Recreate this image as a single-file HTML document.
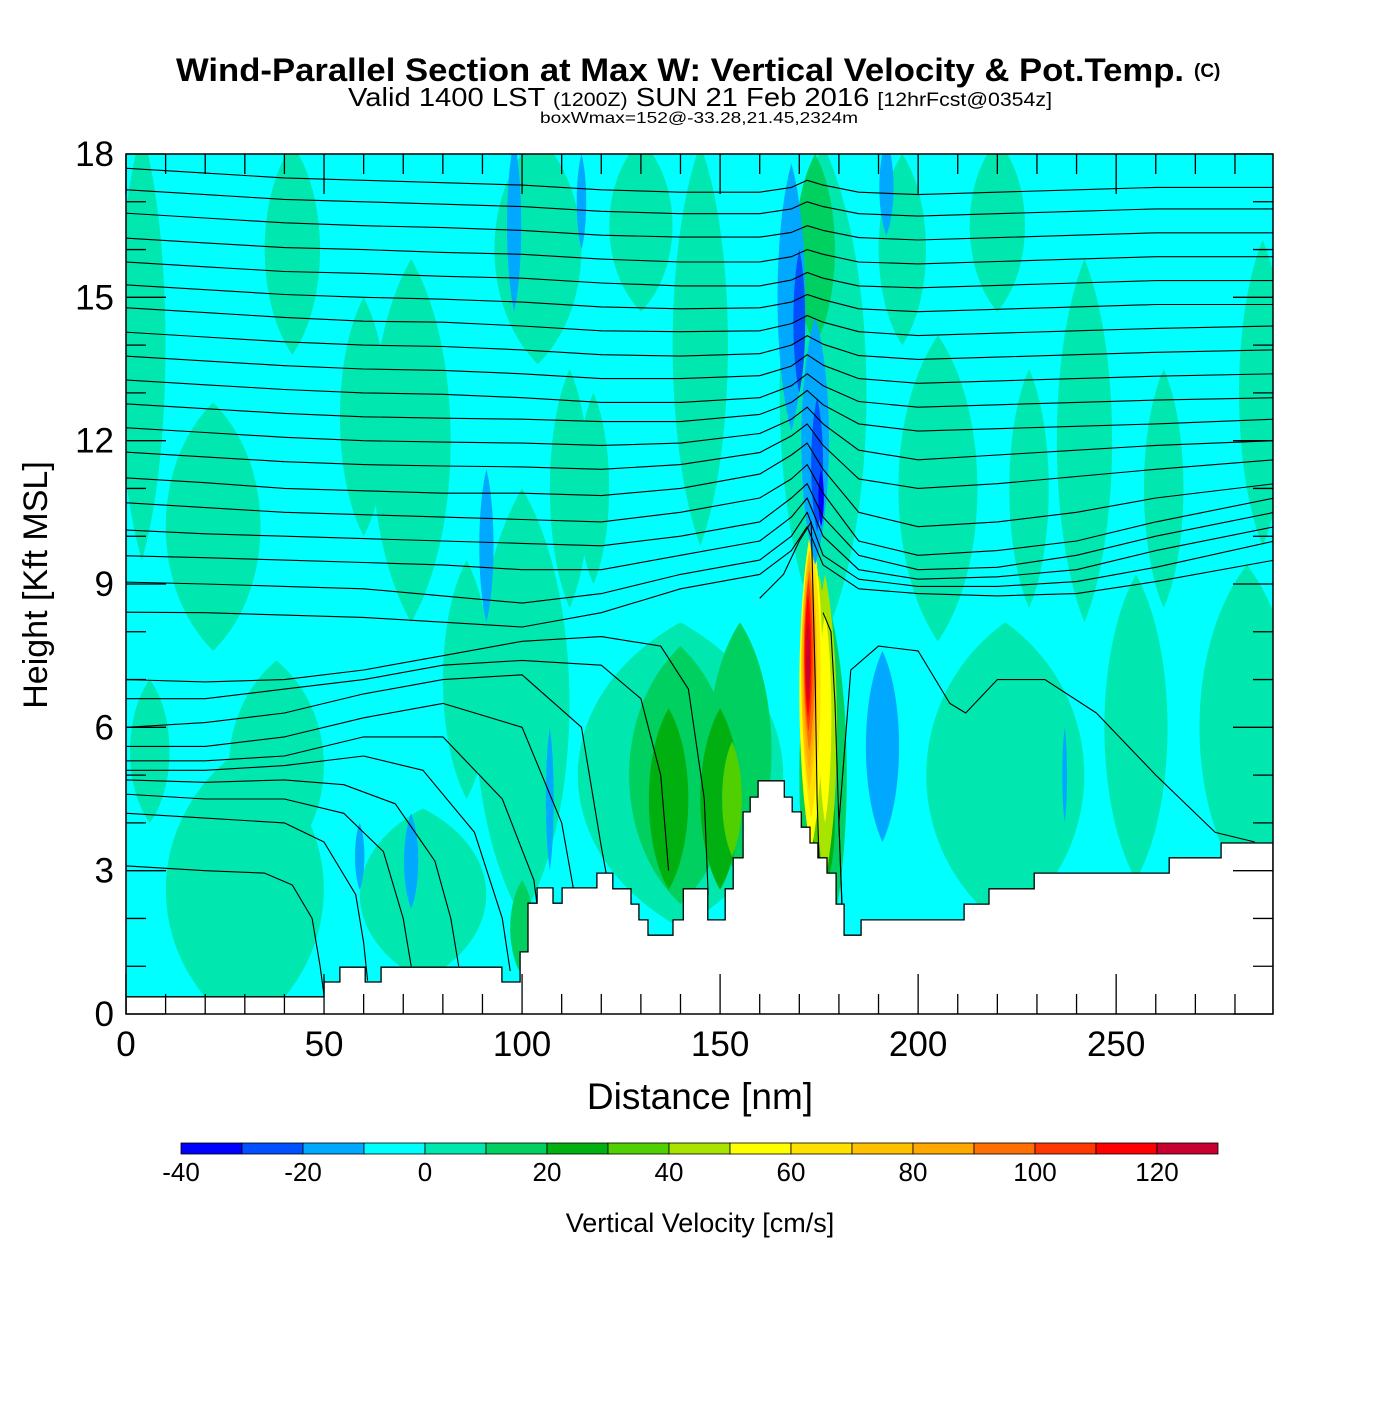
<!DOCTYPE html>
<html><head><meta charset="utf-8"><style>
html,body{margin:0;padding:0;background:#fff;}
svg text{font-family:"Liberation Sans",sans-serif;}
</style></head><body>
<svg id="chart" width="1400" height="1400" viewBox="0 0 1400 1400" xmlns="http://www.w3.org/2000/svg">
<text x="176" y="81" font-size="32" font-weight="bold" textLength="1008" lengthAdjust="spacingAndGlyphs">Wind-Parallel Section at Max W: Vertical Velocity &amp; Pot.Temp.</text>
<text x="1194" y="77" font-size="19" font-weight="bold">(C)</text>
<text x="348" y="106" font-size="26" textLength="704" lengthAdjust="spacingAndGlyphs">Valid 1400 LST <tspan font-size="19">(1200Z)</tspan> SUN 21 Feb 2016 <tspan font-size="19">[12hrFcst@0354z]</tspan></text>
<text x="540" y="123" font-size="16" textLength="318" lengthAdjust="spacingAndGlyphs">boxWmax=152@-33.28,21.45,2324m</text>
<defs><clipPath id="plotclip"><rect x="126" y="154" width="1147" height="860"/></clipPath></defs>
<g id="plot" clip-path="url(#plotclip)">
<rect x="126" y="154" width="1147" height="860" fill="#00ffff"/>
<g id="blobs"></g><g id="contours"></g><g id="terrain"></g>
</g>
<rect x="126" y="154" width="1147" height="860" fill="none" stroke="#000" stroke-width="1.5"/>
<g id="ticks"></g>
<text x="700" y="1109" text-anchor="middle" font-size="37">Distance [nm]</text>
<text transform="translate(47,585) rotate(-90)" text-anchor="middle" font-size="34">Height [Kft MSL]</text>
<g id="colorbar"></g>
<text x="700" y="1232" text-anchor="middle" font-size="27">Vertical Velocity [cm/s]</text>
</svg>
<script>
const NS="http://www.w3.org/2000/svg";
const xTicks=[0,50,100,150,200,250];
const yTicks=[0,3,6,9,12,15,18];
const cbLevels=[-40,-30,-20,-10,0,10,20,30,40,50,60,70,80,90,100,110,120,130];
const cbLabels=[-40,-20,0,20,40,60,80,100,120];
const cbColors=["#0000ff","#0050ff","#00a8ff","#00ffff","#00e8b0","#00d060","#00b010","#50d000","#a8e400","#ffff00","#ffe000","#ffc000","#ffa800","#ff7000","#ff3800","#ff0000","#c80030"];
// vertical velocity features: center distance, center height, half-width (nm), half-height (kft), value (cm/s)
const blobX=[4,6,30,38,22,42,72,75,100,104,130,145,140,176,205,222,242,255,283,287,220,228,262,196,112,60,118,86,
  140,155,176,100,174,137,150,176,153,175,175,176.5,176.5,173,173,172.5,172.5,172.5,172.3,172.2,172.2,
  168,174,170,174.5,175.5,98,91,191,72,59,107,237,192,115];
const blobH=[14,5.5,2.6,5.2,10.2,16,12,2.5,6.5,16,16.5,14,5,13,11,5,12,6,6,13,16.5,11,11,16,11,12.5,11,7,
  5,5.5,5,1.8,16,4.5,4.5,4,4.5,6,6.5,6,6.2,6.8,7,7.2,7.3,7.4,7.5,7.5,7.4,
  15,12,14.5,11.5,10.8,16.5,9.8,5.6,3.2,3.3,4.5,5,17.3,17];
const blobW=[6,5,20,12,12,7,10,16,12,11,8,7,26,11,10,20,7,8,12,6,7,5,5,6,5,6,4,6,
  13,8,6,3,5,5,5,3,2.5,3,2.5,3,1.6,3,2.4,2,1.7,1.4,1.1,0.8,0.5,
  3.5,3.5,1.5,1.5,0.7,1.8,1.8,4.2,1.8,1.2,1,0.6,1.8,1.2];
const blobD=[4.5,1.5,3,2.2,2.6,2.2,3.8,1.8,4.5,2.4,1.8,4.2,3.2,5.2,3.2,3.2,3.8,3.2,3.4,3.2,1.8,2.5,2.5,2,2.5,2.5,2,2.5,
  2.7,2.7,4,1,2,1.9,1.9,1.5,1.2,3,2.7,3.2,2.2,3.4,2.9,2.5,2.2,1.9,1.6,1.3,0.9,
  2.8,2.6,1.5,1.4,0.6,1.8,1.6,2,1,0.7,1.5,1,1,1];
const blobV=[5,5,5,5,5,5,5,5,5,5,5,5,5,5,5,5,5,5,5,5,5,5,5,5,5,5,5,5,
  15,15,15,15,15,25,25,25,35,35,45,45,55,55,65,75,85,95,105,115,125,
  -15,-15,-25,-25,-35,-15,-15,-15,-15,-15,-15,-15,-15,-15];
// terrain steps (distance nm, height kft)
const terrainX=[0,50,54,60.4,64.4,94.9,99.5,101.5,103.8,107.8,110.1,118.9,122.9,127.5,129.5,131.8,138.1,140.7,146.9,151.3,153.3,155.8,157.6,159.6,166.2,168.2,170.5,172.7,174.7,177,179.3,181.3,185.6,211.6,217.9,229.3,263.4,276.5];
const terrainH=[0.36,0.67,0.98,0.67,0.98,0.67,1.3,2.32,2.64,2.32,2.64,2.95,2.62,2.3,1.97,1.65,1.97,2.62,1.97,2.62,3.27,4.23,4.54,4.88,4.54,4.23,3.91,3.58,3.27,2.95,2.3,1.65,1.97,2.3,2.62,2.95,3.27,3.58];
const xMax=289.6;
// potential temperature contours
const gx=[0,20,40,60,80,100,120,140,160,168,172,176,185,200,220,240,260,290];
const upperLines=[
[17.7,17.6,17.5,17.45,17.4,17.35,17.25,17.2,17.2,17.3,17.45,17.35,17.2,17.15,17.2,17.25,17.3,17.3],
[17.25,17.15,17.05,17.0,16.95,16.9,16.8,16.75,16.75,16.85,17.0,16.9,16.75,16.7,16.75,16.8,16.85,16.85],
[16.76,16.66,16.56,16.5,16.46,16.4,16.3,16.26,16.26,16.36,16.5,16.4,16.25,16.2,16.25,16.3,16.35,16.35],
[16.24,16.14,16.04,16.0,15.94,15.9,15.8,15.74,15.74,15.85,16.0,15.9,15.74,15.7,15.75,15.8,15.85,15.85],
[15.74,15.64,15.54,15.5,15.44,15.4,15.3,15.24,15.24,15.36,15.52,15.4,15.24,15.2,15.25,15.3,15.35,15.35],
[15.26,15.16,15.06,15.0,14.96,14.9,14.8,14.76,14.78,14.9,15.06,14.95,14.76,14.7,14.75,14.8,14.85,14.85],
[14.78,14.68,14.58,14.5,14.48,14.4,14.3,14.28,14.3,14.45,14.62,14.48,14.28,14.2,14.25,14.3,14.35,14.4],
[14.27,14.17,14.07,14.0,13.97,13.9,13.8,13.77,13.82,14.0,14.2,14.02,13.78,13.7,13.75,13.8,13.85,13.9],
[13.77,13.67,13.57,13.5,13.47,13.4,13.3,13.3,13.36,13.56,13.8,13.58,13.3,13.2,13.25,13.3,13.35,13.4],
[13.27,13.17,13.07,13.0,12.97,12.9,12.8,12.8,12.9,13.15,13.4,13.15,12.82,12.7,12.75,12.8,12.85,12.9],
[12.77,12.67,12.57,12.5,12.47,12.45,12.4,12.4,12.55,12.8,13.05,12.75,12.35,12.2,12.25,12.3,12.35,12.45],
[12.27,12.17,12.07,12.0,11.97,11.95,11.9,11.95,12.15,12.45,12.7,12.35,11.8,11.6,11.7,11.8,11.9,12.0],
[11.76,11.66,11.56,11.5,11.47,11.45,11.4,11.5,11.75,12.1,12.35,11.9,11.2,11.0,11.1,11.25,11.4,11.6],
[11.22,11.12,11.0,10.95,10.9,10.9,10.85,11.0,11.3,11.7,11.95,11.4,10.5,10.2,10.3,10.5,10.8,11.1],
[10.7,10.6,10.5,10.45,10.4,10.35,10.3,10.5,10.8,11.2,11.5,10.9,9.9,9.6,9.7,9.9,10.3,10.8],
[10.13,10.05,10.0,9.95,9.9,9.85,9.8,10.0,10.3,10.8,11.1,10.4,9.6,9.3,9.35,9.6,10.0,10.5],
[9.59,9.55,9.5,9.45,9.4,9.3,9.3,9.6,9.9,10.4,10.8,10.0,9.3,9.1,9.15,9.3,9.7,10.2],
[9.04,9.0,8.95,8.9,8.75,8.6,8.8,9.2,9.5,10.0,10.5,9.6,9.1,8.95,8.95,9.05,9.35,9.9],
[8.41,8.4,8.35,8.3,8.2,8.1,8.4,8.9,9.2,9.7,10.2,9.4,8.9,8.8,8.75,8.8,9.05,9.5]
];
const lowerLinesX=[
[0,20,35,42,47,49,50],
[0,20,40,50,58,60,61],
[0,20,40,55,65,70,72],
[0,20,40,55,68,78,82,84],
[0,20,40,60,75,88,95,97],
[0,20,40,60,80,95,103,105],
[0,20,40,60,80,100,110,113],
[0,20,40,60,80,100,115,120,122],
[0,20,40,60,80,100,120,130,135,137],
[0,20,40,60,80,100,120,135,142,146,147],
[160,166,170,173,174,174.5,175],
[176,178,179,180,181],
[181,180,183,190,200,208,212,220,232,245,260,275,285]
];
const lowerLinesH=[
[3.1,3.0,2.95,2.7,2.0,1.0,0.4],
[4.2,4.1,4.0,3.6,2.5,1.5,0.7],
[4.6,4.5,4.5,4.2,3.4,2.0,1.0],
[4.9,4.85,4.9,4.8,4.4,3.2,2.0,1.0],
[5.1,5.1,5.2,5.4,5.1,3.8,2.0,0.9],
[5.3,5.3,5.4,5.8,5.8,4.5,2.8,1.5],
[5.6,5.6,5.8,6.2,6.5,6.0,4.0,2.6],
[6.0,6.1,6.3,6.7,7.0,7.1,6.0,3.5,2.6],
[6.6,6.6,6.8,7.0,7.3,7.4,7.3,6.6,5.0,3.0],
[7.0,6.95,7.0,7.2,7.5,7.8,7.9,7.7,6.8,4.5,2.5],
[8.7,9.2,9.9,10.3,7.0,4.5,3.2],
[8.4,8.0,6.5,4.0,1.8],
[1.7,4.0,7.2,7.7,7.6,6.5,6.3,7.0,7.0,6.3,5.0,3.8,3.6]
];

const X0=126,X1=1273,Y0=1014,Y1=154;
function sx(v){return X0+(v/xMax)*(X1-X0);}
function sy(v){return Y0-(v/18)*(Y0-Y1);}
function colorOf(v){let i=Math.floor((v+40)/10);i=Math.max(0,Math.min(cbColors.length-1,i));return cbColors[i];}
function mk(tag,attrs,parent){const e=document.createElementNS(NS,tag);for(const k in attrs)e.setAttribute(k,attrs[k]);parent.appendChild(e);return e;}

const gB=document.getElementById('blobs');
for(let i=0;i<blobX.length;i++){
  const cx=sx(blobX[i]),top=sy(blobH[i]+blobD[i]),bot=sy(blobH[i]-blobD[i]),mid=sy(blobH[i]);
  const w=(blobW[i]/xMax)*(X1-X0);
  const d=`M${cx},${top} C${cx+w*1.33},${top+(mid-top)*0.5} ${cx+w*1.33},${mid+(bot-mid)*0.5} ${cx},${bot} C${cx-w*1.33},${mid+(bot-mid)*0.5} ${cx-w*1.33},${top+(mid-top)*0.5} ${cx},${top}Z`;
  const p=mk('path',{d:d,fill:colorOf(blobV[i])},gB);
  
  
}
const gC=document.getElementById('contours');
function drawLine(xs,hs){
  const pts=xs.map((x,j)=>sx(x).toFixed(1)+','+sy(hs[j]).toFixed(1)).join(' ');
  const l=mk('polyline',{points:pts,fill:'none',stroke:'#000','stroke-width':1.1,'stroke-linejoin':'round'},gC);
  
  
}
upperLines.forEach(h=>drawLine(gx,h));
lowerLinesX.forEach((xs,i)=>drawLine(xs,lowerLinesH[i]));
const gT=document.getElementById('terrain');
let tp=[];
for(let i=0;i<terrainX.length;i++){
  const xe=i+1<terrainX.length?terrainX[i+1]:xMax;
  tp.push(sx(terrainX[i]).toFixed(1)+','+sy(terrainH[i]).toFixed(1));
  tp.push(sx(xe).toFixed(1)+','+sy(terrainH[i]).toFixed(1));
}
tp.push(sx(xMax)+','+(Y0+2));tp.push(sx(0)+','+(Y0+2));
const terr=mk('polygon',{points:tp.join(' '),fill:'#fff',stroke:'#000','stroke-width':1.3},gT);


const gK=document.getElementById('ticks');
for(let v=0;v<=xMax;v+=10){
  const major=v%50===0,len=major?40:20,x=sx(v);
  mk('line',{x1:x,y1:Y0,x2:x,y2:Y0-len,stroke:'#000','stroke-width':1.3},gK);
  mk('line',{x1:x,y1:Y1,x2:x,y2:Y1+len,stroke:'#000','stroke-width':1.3},gK);
}
xTicks.forEach(v=>{const t=mk('text',{x:sx(v),y:1056,'text-anchor':'middle','font-size':35},gK);t.textContent=v;
  
  });
for(let v=0;v<=18;v+=1){
  const major=v%3===0,len=major?40:20,y=sy(v);
  mk('line',{x1:X0,y1:y,x2:X0+len,y2:y,stroke:'#000','stroke-width':1.3},gK);
  mk('line',{x1:X1,y1:y,x2:X1-len,y2:y,stroke:'#000','stroke-width':1.3},gK);
}
yTicks.forEach(v=>{const t=mk('text',{x:114,y:sy(v)+12,'text-anchor':'end','font-size':35},gK);t.textContent=v;
  
  });
const gCB=document.getElementById('colorbar');
const cbX0=181,cbX1=1218,cbW=(cbX1-cbX0)/cbColors.length;
cbColors.forEach((c,i)=>{const r=mk('rect',{x:cbX0+i*cbW,y:1143,width:cbW,height:11,fill:c,stroke:'#000','stroke-width':0.8},gCB);
  
  });
cbLabels.forEach(v=>{const i=cbLevels.indexOf(v);const t=mk('text',{x:cbX0+i*cbW,y:1181,'text-anchor':'middle','font-size':26},gCB);t.textContent=v;
  
  });
</script>
</body></html>
